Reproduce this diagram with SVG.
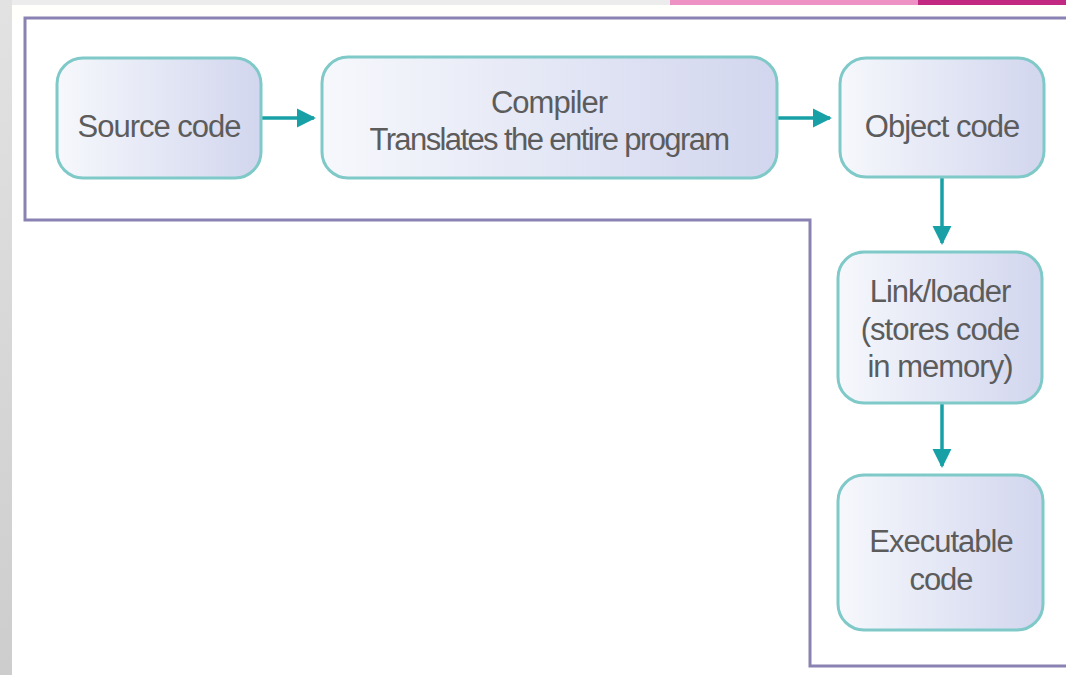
<svg xmlns="http://www.w3.org/2000/svg" width="1066" height="675" viewBox="0 0 1066 675">
  <defs>
    <linearGradient id="nodeFill" x1="0" y1="0" x2="1" y2="0">
      <stop offset="0" stop-color="#f6f8fc"/>
      <stop offset="1" stop-color="#d2d6ee"/>
    </linearGradient>
    <linearGradient id="sideFill" x1="0" y1="0" x2="0" y2="1">
      <stop offset="0" stop-color="#e2e2e2"/>
      <stop offset="1" stop-color="#cdcdcd"/>
    </linearGradient>
    <marker id="arrow" viewBox="0 0 10 10" refX="9" refY="5" markerWidth="5.5" markerHeight="5.5" orient="auto" markerUnits="strokeWidth">
      <path d="M0,0 L10,5 L0,10 Z" fill="#17a0a6"/>
    </marker>
    <style>
      .node rect { fill: url(#nodeFill); stroke: #7fc9c8; stroke-width: 3; }
      .node text { font-family: "Liberation Sans", Arial, sans-serif; font-size: 31px; fill: #5c5c5c; text-anchor: middle; letter-spacing: -1px; }
      .node text.tight { letter-spacing: -1.6px; }
      .edge { stroke: #17a0a6; stroke-width: 3.5; fill: none; marker-end: url(#arrow); }
      .frame { fill: none; stroke: #8a82b2; stroke-width: 3; }
    </style>
  </defs>

  <!-- slide background -->
  <rect x="0" y="0" width="1066" height="675" fill="url(#sideFill)"/>
  <rect x="12" y="0" width="1054" height="6" fill="#ececec"/>
  <rect x="670" y="0" width="250" height="6" fill="#ee92c3"/>
  <rect x="918" y="0" width="148" height="6" fill="#c12a80"/>
  <rect x="12" y="5" width="1054" height="670" fill="#fffffb"/>
  <rect x="12" y="20" width="1054" height="655" fill="#ffffff"/>

  <!-- L-shaped outline around the compile stage -->
  <path class="frame" d="M1066,18 L25,18 L25,220 L810,220 L810,666 L1066,666"/>

  <!-- connectors -->
  <g id="connectors">
    <line class="edge" x1="262" y1="118" x2="314" y2="118"/>
    <line class="edge" x1="778" y1="118" x2="830" y2="118"/>
    <line class="edge" x1="942" y1="178" x2="942" y2="243"/>
    <line class="edge" x1="942" y1="404" x2="942" y2="466"/>
  </g>

  <g id="source-code" class="node">
    <rect x="57" y="58" width="204" height="120" rx="26"/>
    <text x="159" y="137">Source code</text>
  </g>

  <g id="compiler" class="node">
    <rect x="322" y="57" width="455" height="121" rx="26"/>
    <text x="549" y="113">Compiler</text>
    <text class="tight" x="549" y="150">Translates the entire program</text>
  </g>

  <g id="object-code" class="node">
    <rect x="840" y="58" width="204" height="119" rx="26"/>
    <text x="942" y="137">Object code</text>
  </g>

  <g id="link-loader" class="node">
    <rect x="838" y="252" width="204" height="151" rx="26"/>
    <text x="940" y="302">Link/loader</text>
    <text x="940" y="340">(stores code</text>
    <text x="940" y="377">in memory)</text>
  </g>

  <g id="executable-code" class="node">
    <rect x="838" y="475" width="205" height="155" rx="26"/>
    <text x="941" y="552">Executable</text>
    <text x="941" y="590">code</text>
  </g>
</svg>
